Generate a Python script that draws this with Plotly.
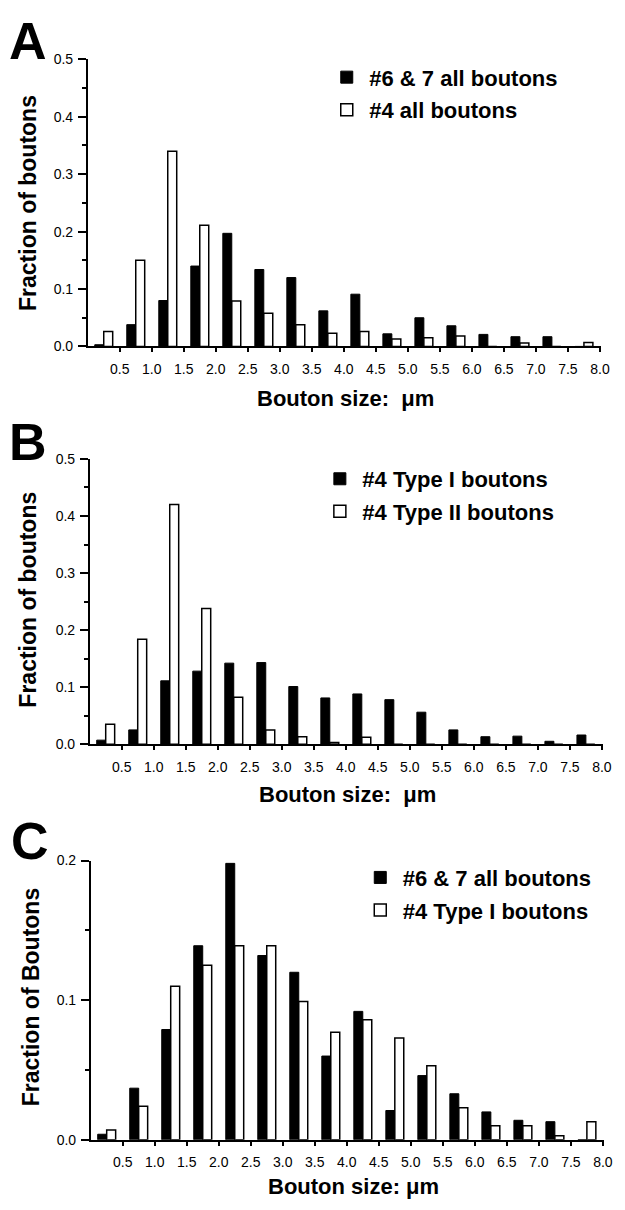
import plotly.graph_objects as go

# bin centres (µm) and tick labels
bins = [0.25, 0.75, 1.25, 1.75, 2.25, 2.75, 3.25, 3.75,
        4.25, 4.75, 5.25, 5.75, 6.25, 6.75, 7.25, 7.75]
xtick_vals = [0.5, 1.0, 1.5, 2.0, 2.5, 3.0, 3.5, 4.0,
              4.5, 5.0, 5.5, 6.0, 6.5, 7.0, 7.5, 8.0]
xtick_text = ["0.5", "1.0", "1.5", "2.0", "2.5", "3.0", "3.5", "4.0",
              "4.5", "5.0", "5.5", "6.0", "6.5", "7.0", "7.5", "8.0"]

# Panel A
a_67_all = [0.003, 0.038, 0.080, 0.140, 0.197, 0.134, 0.120, 0.062,
            0.091, 0.022, 0.050, 0.036, 0.021, 0.017, 0.017, 0.0]
a_4_all = [0.026, 0.150, 0.340, 0.211, 0.079, 0.058, 0.038, 0.023,
           0.026, 0.013, 0.015, 0.018, 0.0, 0.006, 0.0, 0.007]
# Panel B
b_4_type1 = [0.007, 0.025, 0.111, 0.128, 0.142, 0.143, 0.101, 0.081,
             0.088, 0.078, 0.056, 0.025, 0.013, 0.014, 0.005, 0.016]
b_4_type2 = [0.035, 0.184, 0.420, 0.238, 0.082, 0.025, 0.013, 0.003,
             0.012, 0.0, 0.0, 0.0, 0.0, 0.0, 0.0, 0.0]
# Panel C
c_67_all = [0.004, 0.037, 0.079, 0.139, 0.198, 0.132, 0.120, 0.060,
            0.092, 0.021, 0.046, 0.033, 0.020, 0.014, 0.013, 0.0]
c_4_type1 = [0.007, 0.024, 0.110, 0.125, 0.139, 0.139, 0.099, 0.077,
             0.086, 0.073, 0.053, 0.023, 0.010, 0.010, 0.003, 0.013]

W, H = 625, 1210
FONT = "Liberation Sans, Arial, Helvetica, sans-serif"


def px(x):
    return x / W


def py(y):
    return 1 - y / H


fig = go.Figure()

panels = [
    ("x", "y", "legend", a_67_all, a_4_all, "#6 & 7 all boutons", "#4 all boutons"),
    ("x2", "y2", "legend2", b_4_type1, b_4_type2, "#4 Type I boutons", "#4 Type II boutons"),
    ("x3", "y3", "legend3", c_67_all, c_4_type1, "#6 & 7 all boutons", "#4 Type I boutons"),
]

for i, (xa, ya, lg, blk, wht, nb, nw) in enumerate(panels):
    fig.add_trace(go.Bar(
        x=bins, y=blk, name="<b>" + nb + "</b>", xaxis=xa, yaxis=ya, legend=lg,
        legendgroup=f"b{i}", marker=dict(color="black", line=dict(color="black", width=1)),
    ))
    fig.add_trace(go.Bar(
        x=bins, y=wht, name="<b>" + nw + "</b>", xaxis=xa, yaxis=ya, legend=lg,
        legendgroup=f"w{i}", marker=dict(color="white", line=dict(color="black", width=1.5)),
    ))

# axis geometry (pixels): x-left, x-right, y-bottom, y-top, y max
geo = [
    (89, 610, 343, 52, 0.5),
    (91, 612, 746, 457, 0.5),
    (92, 613, 1147, 864, 0.2),
]

layout = dict(
    width=W, height=H,
    margin=dict(l=0, r=0, t=0, b=0),
    paper_bgcolor="white", plot_bgcolor="white",
    barmode="group", bargap=0.44, bargroupgap=0.0,
    font=dict(family=FONT, color="black"),
)

for i, (x0, x1, yb, yt, ymax) in enumerate(geo):
    sx = "" if i == 0 else str(i + 1)
    layout["xaxis" + sx] = dict(
        domain=[px(x0), px(x1)], range=[0, 8.02], anchor="y" + sx,
        showline=True, linecolor="black", linewidth=1.5,
        ticks="outside", ticklen=4, tickwidth=1.5, tickcolor="black",
        tickvals=xtick_vals, ticktext=xtick_text,
        tickfont=dict(family=FONT, size=14, color="black"),
        ticklabelstandoff=5, ticklabeloverflow="allow",
        showgrid=False, zeroline=False, fixedrange=True,
    )
    layout["yaxis" + sx] = dict(
        domain=[py(yb), py(yt)], range=[0, ymax], anchor="x" + sx,
        showline=True, linecolor="black", linewidth=1.5,
        ticks="outside", ticklen=8, tickwidth=1.5, tickcolor="black",
        tick0=0, dtick=0.1, tickformat=".1f",
        minor=dict(ticks="outside", ticklen=4, dtick=0.05, tick0=0,
                   tickcolor="black", tickwidth=1.5),
        tickfont=dict(family=FONT, size=14, color="black"),
        ticklabelstandoff=2, ticklabeloverflow="allow",
        showgrid=False, zeroline=False, fixedrange=True,
    )

# legends
leg_pos = [(329, 49), (322, 456), (363, 860)]
for i, (lx, ly) in enumerate(leg_pos):
    key = "legend" if i == 0 else f"legend{i + 1}"
    layout[key] = dict(
        x=px(lx), y=py(ly), xanchor="left", yanchor="top",
        bgcolor="rgba(0,0,0,0)", borderwidth=0, itemwidth=35,
        font=dict(family=FONT, size=22, color="black"),
        tracegroupgap=1, itemclick=False, itemdoubleclick=False,
    )

annotations = []
# panel letters
for letter, (lx, ly) in zip(["A", "B", "C"], [(28, 33), (28, 440), (30, 844)]):
    annotations.append(dict(
        text="<b>" + letter + "</b>", x=px(lx), y=py(ly), xref="paper", yref="paper",
        xanchor="center", yanchor="middle", showarrow=False,
        font=dict(family=FONT, size=52, color="black"),
    ))
# y-axis titles
ytitles = ["Fraction of boutons", "Fraction of boutons", "Fraction of Boutons"]
for t, (lx, ly) in zip(ytitles, [(29, 198), (28, 600), (31, 1003)]):
    annotations.append(dict(
        text="<b>" + t + "</b>", x=px(lx), y=py(ly), xref="paper", yref="paper",
        xanchor="center", yanchor="middle", showarrow=False, textangle=-90,
        font=dict(family=FONT, size=23, color="black"),
    ))
# x-axis titles
xtitles = ["Bouton size:\u00a0 μm", "Bouton size:\u00a0 μm", "Bouton size: μm"]
for t, (lx, ly) in zip(xtitles, [(351, 396), (353, 797), (359, 1194)]):
    annotations.append(dict(
        text="<b>" + t + "</b>", x=px(lx), y=py(ly), xref="paper", yref="paper",
        xanchor="center", yanchor="middle", showarrow=False,
        font=dict(family=FONT, size=22, color="black"),
    ))
layout["annotations"] = annotations

fig.update_layout(**layout)
fig.write_html(
    "out.html",
    config=dict(displayModeBar=False),
    post_script="document.body.style.margin='0';document.body.style.overflow='hidden';",
)
